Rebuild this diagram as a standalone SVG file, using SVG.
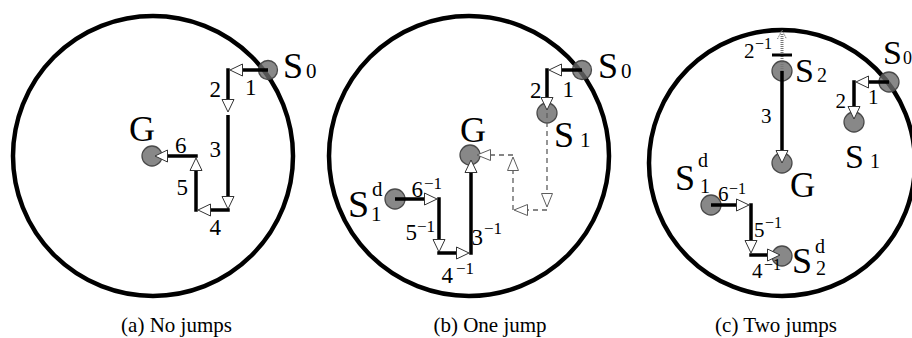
<svg xmlns="http://www.w3.org/2000/svg" width="912" height="338" viewBox="0 0 912 338" font-family="Liberation Serif, Times New Roman, serif">
<defs>
<style>
text{font-family:"Liberation Serif","Times New Roman",serif;fill:#000}
.bd{fill:none;stroke:#000;stroke-width:4.5}
.nd{fill:#6a6a6a;fill-opacity:0.8;stroke:#4a4a4a;stroke-width:1.3}
.e{stroke:#000;stroke-width:3.5;fill:none;marker-end:url(#ah)}
.d{stroke:#5e5e5e;stroke-width:1.3;stroke-dasharray:5 4;fill:none;marker-end:url(#dh)}
.big{font-size:36px}
.num{font-size:23px}
.sub{font-size:21px}
.sup{font-size:17px}
.numc{font-size:21px}
.supc{font-size:16px}
.cap{font-size:21px;text-anchor:middle}
</style>
<marker id="ah" markerUnits="userSpaceOnUse" viewBox="0 -7 15 14" refX="0" refY="0" markerWidth="15" markerHeight="14" orient="auto">
<path d="M0.5,-6 L13,0 L0.5,6 Z" fill="#fff" stroke="#333" stroke-width="1"/>
</marker>
<marker id="dh" markerUnits="userSpaceOnUse" viewBox="0 -7 16 14" refX="0" refY="0" markerWidth="16" markerHeight="14" orient="auto">
<path d="M0.5,-5.5 L14,0 L0.5,5.5 Z" fill="#fff" stroke="#5e5e5e" stroke-width="1"/>
</marker>
</defs>
<rect width="912" height="338" fill="#fff"/>

<g id="boundaries">
<circle class="bd" cx="153" cy="156" r="140"/>
<circle class="bd" cx="469" cy="156" r="140"/>
<circle class="bd" cx="782" cy="163" r="133"/>
</g>

<!-- panel a nodes -->
<g id="a-S0"><circle class="nd" cx="268" cy="70" r="9.5"/><text class="big" x="283" y="78">S</text><text class="sub" x="306" y="78">0</text></g>
<g id="a-G"><circle class="nd" cx="152" cy="156" r="10"/><text class="big" x="129" y="141">G</text></g>

<!-- panel b nodes -->
<g id="b-S0"><circle class="nd" cx="582" cy="70" r="9.5"/><text class="big" x="598" y="78">S</text><text class="sub" x="621" y="78">0</text></g>
<g id="b-S1"><circle class="nd" cx="547" cy="113" r="10"/><text class="big" x="554" y="147">S</text><text class="sub" x="580" y="147">1</text></g>
<g id="b-G"><circle class="nd" cx="470" cy="155" r="10"/><text class="big" x="460" y="142">G</text></g>
<g id="b-S1d"><circle class="nd" cx="395" cy="199" r="10"/><text class="big" x="348" y="217" style="font-size:38px">S</text><text class="sub" x="372" y="196">d</text><text class="sub" x="371" y="221">1</text></g>

<!-- panel c nodes -->
<g id="c-S0"><circle class="nd" cx="889" cy="82" r="10"/><text class="big" x="883" y="64" style="font-size:34px">S</text><text class="sub" x="903" y="64" style="font-size:18px">0</text></g>
<g id="c-S1"><circle class="nd" cx="854" cy="122" r="10"/><text class="big" x="845" y="168" style="font-size:34px">S</text><text class="sub" x="870" y="168" style="font-size:20px">1</text></g>
<g id="c-S2"><circle class="nd" cx="782" cy="71" r="10"/><text class="big" x="795" y="82" style="font-size:34px">S</text><text class="sub" x="817" y="82" style="font-size:20px">2</text></g>
<g id="c-G"><circle class="nd" cx="782" cy="163" r="10"/><text class="big" x="790" y="197" style="font-size:35px">G</text></g>
<g id="c-S1d"><circle class="nd" cx="711" cy="205" r="10"/><text class="big" x="675" y="190" style="font-size:36px">S</text><text class="sub" x="698" y="167" style="font-size:20px">d</text><text class="sub" x="700" y="193" style="font-size:20px">1</text></g>
<g id="c-S2d"><circle class="nd" cx="782" cy="256" r="10"/><text class="big" x="792" y="273" style="font-size:36px">S</text><text class="sub" x="815" y="253" style="font-size:20px">d</text><text class="sub" x="816" y="275" style="font-size:20px">2</text></g>

<g id="connectors">
<!-- a -->
<line class="e" x1="268" y1="70" x2="243" y2="70"/>
<line class="e" x1="228" y1="68.25" x2="228" y2="99"/>
<line class="e" x1="228" y1="115" x2="228" y2="196"/>
<line class="e" x1="229.75" y1="210" x2="211" y2="210"/>
<line class="e" x1="196" y1="211.75" x2="196" y2="171"/>
<line class="e" x1="197.75" y1="156" x2="168" y2="156"/>
<!-- b -->
<line class="e" x1="582" y1="70" x2="562" y2="70"/>
<line class="e" x1="547" y1="68.25" x2="547" y2="97"/>
<line class="d" x1="547" y1="113" x2="547" y2="193"/>
<line class="d" x1="547" y1="210" x2="528" y2="210"/>
<line class="d" x1="513" y1="210" x2="513" y2="171"/>
<line class="d" x1="513" y1="155" x2="491" y2="155"/>
<line class="e" x1="395" y1="199" x2="424" y2="199"/>
<line class="e" x1="439" y1="197.25" x2="439" y2="239"/>
<line class="e" x1="437.25" y1="253" x2="456" y2="253"/>
<line class="e" x1="471" y1="254.75" x2="471" y2="173"/>
<!-- c -->
<line class="e" x1="889" y1="82" x2="869" y2="82"/>
<line class="e" x1="854" y1="80.25" x2="854" y2="106"/>
<line x1="782" y1="71" x2="782" y2="33" stroke="#777" stroke-width="3" stroke-dasharray="1 1"/>
<polyline points="777.5,39 782,30 786.5,39" fill="none" stroke="#777" stroke-width="1" stroke-dasharray="1.5 1"/>
<line x1="772" y1="55" x2="792" y2="55" stroke="#000" stroke-width="3"/>
<line class="e" x1="782" y1="71" x2="782" y2="150"/>
<line class="e" x1="711" y1="205" x2="736" y2="205"/>
<line class="e" x1="751" y1="203.25" x2="751" y2="240"/>
<line class="e" x1="749.25" y1="255" x2="767" y2="255"/>
</g>

<g id="edge-labels">
<!-- a -->
<text class="num" x="245" y="95">1</text>
<text class="num" x="209.5" y="97">2</text>
<text class="num" x="209.5" y="157">3</text>
<text class="num" x="209.5" y="235">4</text>
<text class="num" x="176.5" y="195">5</text>
<text class="num" x="175" y="153">6</text>
<!-- b -->
<text class="num" x="562.5" y="97">1</text>
<text class="num" x="530" y="98">2</text>
<text class="num" x="411.5" y="197">6</text><text class="sup" x="424" y="189">−1</text>
<text class="num" x="405.5" y="240">5</text><text class="sup" x="417" y="232">−1</text>
<text class="num" x="471.5" y="245">3</text><text class="sup" x="484" y="234">−1</text>
<text class="num" x="441.5" y="283">4</text><text class="sup" x="456" y="274">−1</text>
<!-- c -->
<text class="numc" x="868" y="104">1</text>
<text class="numc" x="835.5" y="108">2</text>
<text class="numc" x="744" y="58">2</text><text class="supc" x="755" y="49">−1</text>
<text class="numc" x="761" y="123">3</text>
<text class="numc" x="718" y="201">6</text><text class="supc" x="729" y="194">−1</text>
<text class="numc" x="754" y="237">5</text><text class="supc" x="765" y="228">−1</text>
<text class="numc" x="752" y="278">4</text><text class="supc" x="764" y="270">−1</text>
</g>

<g id="captions">
<text class="cap" x="176.5" y="332">(a) No jumps</text>
<text class="cap" x="490" y="332">(b) One jump</text>
<text class="cap" x="776" y="332">(c) Two jumps</text>
</g>
</svg>
